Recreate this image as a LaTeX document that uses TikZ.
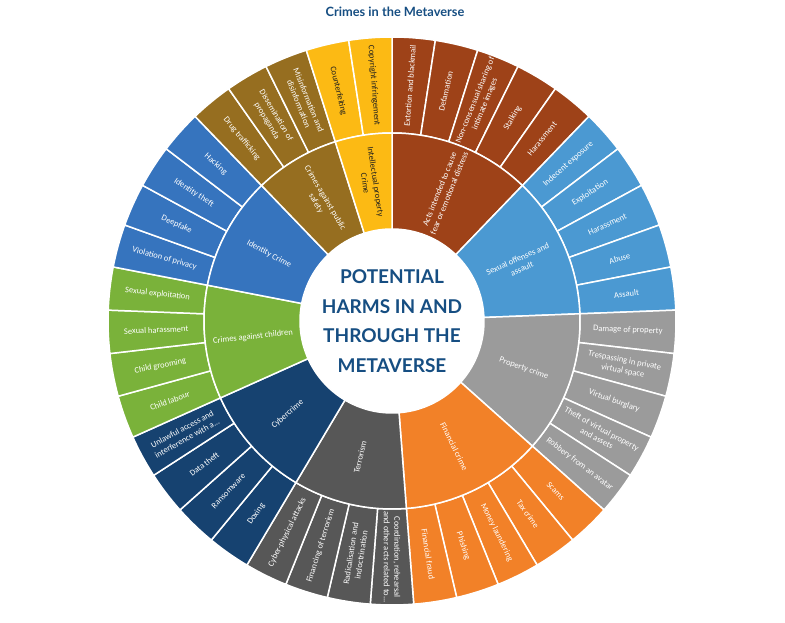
\documentclass[tikz,border=0pt]{standalone}
\usepackage{fontspec}
\setmainfont{Carlito}
\newfontfamily\headfont{Lato}
\definecolor{acts}{RGB}{158,66,24}
\definecolor{sexual}{RGB}{75,153,210}
\definecolor{property}{RGB}{155,155,155}
\definecolor{financial}{RGB}{242,129,40}
\definecolor{terror}{RGB}{87,87,87}
\definecolor{cyber}{RGB}{22,66,112}
\definecolor{children}{RGB}{122,178,58}
\definecolor{identity}{RGB}{54,116,190}
\definecolor{public}{RGB}{150,110,32}
\definecolor{ip}{RGB}{252,186,20}
\definecolor{headblue}{RGB}{22,78,130}
\definecolor{darktxt}{RGB}{30,30,30}
\tikzset{
  sector/.style={draw=white, line width=1.5pt},
  seglabel/.style={align=center, inner sep=0pt, font=\fontsize{8.5}{10.5}\selectfont},
}
\begin{document}
\begin{tikzpicture}[x=1pt,y=1pt]
\useasboundingbox (0,0) rectangle (785,623);
\node[font=\headfont\bfseries\fontsize{12.8}{14}\selectfont, text=headblue] (title) at (395,611) {Crimes in the Metaverse};
\begin{scope}[shift={(392,302)}]
\pgfmathsetmacro{\dang}{360/41}
% outer ring (leaves)
\foreach \t/\c/\tc [count=\i from 0] in {
 {Extortion and blackmail}/acts/white,
 {Defamation}/acts/white,
 {Non-consensual sharing of\\intimate images}/acts/white,
 {Stalking}/acts/white,
 {Harassment}/acts/white,
 {Indecent exposure}/sexual/white,
 {Exploitation}/sexual/white,
 {Harassment}/sexual/white,
 {Abuse}/sexual/white,
 {Assault}/sexual/white,
 {Damage of property}/property/white,
 {Trespassing in private\\virtual space}/property/white,
 {Virtual burglary}/property/white,
 {Theft of virtual property\\and assets}/property/white,
 {Robbery from an avatar}/property/white,
 {Scams}/financial/white,
 {Tax crime}/financial/white,
 {Money laundering}/financial/white,
 {Phishing}/financial/white,
 {Financial fraud}/financial/white,
 {Coordination, rehearsal\\and other acts related to...}/terror/white,
 {Radicalisation and\\indoctrination}/terror/white,
 {Financing of terrorism}/terror/white,
 {Cyber-physical attacks}/terror/white,
 {Doxing}/cyber/white,
 {Ransomware}/cyber/white,
 {Data theft}/cyber/white,
 {Unlawful access and\\interference with a...}/cyber/white,
 {Child labour}/children/white,
 {Child grooming}/children/white,
 {Sexual harassment}/children/white,
 {Sexual exploitation}/children/white,
 {Violation of privacy}/identity/white,
 {Deepfake}/identity/white,
 {Identity theft}/identity/white,
 {Hacking}/identity/white,
 {Drug trafficking}/public/white,
 {Dissemination of\\propaganda}/public/white,
 {Misinformation and\\disinformation}/public/white,
 {Counterfeiting}/ip/darktxt,
 {Copyright infringement}/ip/darktxt}
{
  \pgfmathsetmacro{\a}{90-\i*\dang}
  \pgfmathsetmacro{\b}{90-(\i+1)*\dang}
  \pgfmathsetmacro{\m}{90-(\i+0.5)*\dang}
  \pgfmathsetmacro{\r}{\m<-90 ? \m+180 : \m}
  \filldraw[sector, fill=\c] (\a:284pt) arc[start angle=\a, end angle=\b, radius=284pt]
     -- (\b:188pt) arc[start angle=\b, end angle=\a, radius=188pt] -- cycle;
  \node[seglabel, text=\tc, rotate=\r] (L\i) at (\m:236pt) {\t};
}
% inner ring (groups)
\foreach \s/\k/\c/\t/\tc [count=\j] in {
 0/5/acts/{Acts intended to cause\\fear or emotional distress}/white,
 5/5/sexual/{Sexual offenses and\\assault}/white,
 10/5/property/{Property crime}/white,
 15/5/financial/{Financial crime}/white,
 20/4/terror/{Terrorism}/white,
 24/4/cyber/{Cybercrime}/white,
 28/4/children/{Crimes against children}/white,
 32/4/identity/{Identity Crime}/white,
 36/3/public/{Crimes against public\\safety}/white,
 39/2/ip/{Intellectual property\\Crime}/darktxt}
{
  \pgfmathsetmacro{\a}{90-\s*\dang}
  \pgfmathsetmacro{\b}{90-(\s+\k)*\dang}
  \pgfmathsetmacro{\m}{90-(\s+\k/2)*\dang}
  \pgfmathsetmacro{\r}{\m<-90 ? \m+180 : \m}
  \filldraw[sector, fill=\c] (\a:188pt) arc[start angle=\a, end angle=\b, radius=188pt]
     -- (\b:92pt) arc[start angle=\b, end angle=\a, radius=92pt] -- cycle;
  \node[seglabel, text=\tc, rotate=\r] (G\j) at (\m:140pt) {\t};
}
\fill[white] (0,0) circle[radius=91pt];
\node[align=center, text=headblue, font=\headfont\bfseries\fontsize{19}{29.5}\selectfont] (hub) at (0,0) {POTENTIAL\\HARMS IN AND\\THROUGH THE\\METAVERSE};
\end{scope}
\end{tikzpicture}
\end{document}
